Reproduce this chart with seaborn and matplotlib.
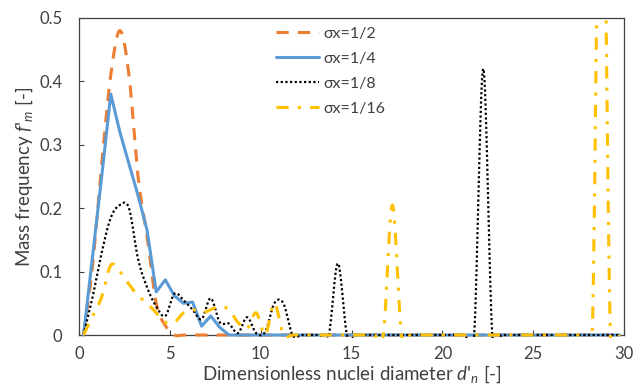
import numpy as np
import pandas as pd
import matplotlib
matplotlib.use("Agg")
import matplotlib.pyplot as plt
import seaborn as sns
from matplotlib.transforms import Bbox, TransformedBbox

# bin centres of the dimensionless nuclei diameter d'_n (bin width 0.5)
diameters = np.arange(0.25, 30.0, 0.5)

# mass frequency f'_m for each spread (60 bins)
f_half = [0, 0.11, 0.27, 0.41, 0.48, 0.41, 0.25, 0.155, 0.05, 0.015,
          0, 0, 0, 0, 0, 0, 0, 0, 0, 0,
          0, 0, 0, 0, 0, 0, 0, 0, 0, 0,
          0, 0, 0, 0, 0, 0, 0, 0, 0, 0,
          0, 0, 0, 0, 0, 0, 0, 0, 0, 0,
          0, 0, 0, 0, 0, 0, 0, 0, 0, 0]
f_quarter = [0, 0.125, 0.25, 0.38, 0.32, 0.27, 0.22, 0.165, 0.068, 0.087,
             0.062, 0.05, 0.052, 0.014, 0.03, 0.012, 0, 0, 0, 0,
             0, 0, 0, 0, 0, 0, 0, 0, 0, 0,
             0, 0, 0, 0, 0, 0, 0, 0, 0, 0,
             0, 0, 0, 0, 0, 0, 0, 0, 0, 0,
             0, 0, 0, 0, 0, 0, 0, 0, 0, 0]
f_eighth = [0, 0.06, 0.13, 0.185, 0.205, 0.2, 0.12, 0.075, 0.045, 0.03,
            0.065, 0.055, 0.04, 0.025, 0.058, 0.02, 0.018, 0.003, 0.028, 0.003,
            0.005, 0.05, 0.05, 0, 0, 0, 0, 0, 0.113, 0,
            0, 0, 0, 0, 0, 0, 0, 0, 0, 0,
            0, 0, 0, 0, 0.42, 0, 0, 0, 0, 0,
            0, 0, 0, 0, 0, 0, 0, 0, 0, 0]
f_sixteenth = [0, 0.03, 0.06, 0.11, 0.1, 0.08, 0.062, 0.05, 0.035, 0.02,
               0.02, 0.035, 0.04, 0.035, 0.04, 0.045, 0.04, 0.02, 0.01, 0.035,
               0, 0.05, 0, 0, 0, 0, 0, 0, 0, 0,
               0, 0, 0, 0, 0.205, 0, 0, 0, 0, 0,
               0, 0, 0, 0, 0, 0, 0, 0, 0, 0,
               0, 0, 0, 0, 0, 0, 0, 0.95, 0, 0]

labels = ["σx=1/2", "σx=1/4", "σx=1/8", "σx=1/16"]
colors = ["#ED7D31", "#5B9BD5", "#000000", "#FFC000"]


def smooth(x, y, n=16):
    # Excel "smoothed line": Catmull-Rom curve through the points
    p = np.column_stack([x, y]).astype(float)
    p = np.vstack([p[0], p, p[-1]])
    t = np.linspace(0, 1, n, endpoint=False)[:, None]
    h00 = 2 * t**3 - 3 * t**2 + 1
    h10 = t**3 - 2 * t**2 + t
    h01 = -2 * t**3 + 3 * t**2
    h11 = t**3 - t**2
    out = []
    for i in range(1, len(p) - 2):
        m0 = (p[i + 1] - p[i - 1]) / 2
        m1 = (p[i + 2] - p[i]) / 2
        out.append(h00 * p[i] + h10 * m0 + h01 * p[i + 1] + h11 * m1)
    out.append(p[-2][None, :])
    out = np.vstack(out)
    return out[:, 0], out[:, 1]


sns.set_theme(style="white")
plt.rcParams['font.family'] = ['Lato', 'DejaVu Sans']
plt.rcParams['mathtext.fontset'] = 'custom'
plt.rcParams['mathtext.rm'] = 'Lato'
plt.rcParams['mathtext.it'] = 'Lato:italic'

fig = plt.figure(figsize=(6.36, 3.91), dpi=100)
ax = fig.add_axes([0.1242, 0.1432, 0.857, 0.811])

series = [
    (f_half, True, (0, (4, 3)), 2.2),
    (f_quarter, False, '-', 2.2),
    (f_eighth, True, (0, (1, 1.1)), 1.6),
    (f_sixteenth, True, (0, (4, 3, 1, 3)), 2.2),
]
for (vals, smoothed, ls, lw), lab, col in zip(series, labels, colors):
    if smoothed:
        xs, ys = smooth(diameters, vals)
    else:
        xs, ys = diameters, np.asarray(vals)
    df = pd.DataFrame({'d': xs, 'f': ys})
    sns.lineplot(data=df, x='d', y='f', ax=ax, color=col, linewidth=lw,
                 linestyle=ls, label=lab, sort=False, estimator=None)

# let the zero baseline show in full, hide the curve undershoot
clip = TransformedBbox(Bbox([[0, -0.009], [1, 1]]), ax.transAxes)
for line in ax.lines:
    line.set_clip_box(clip)
    line.set_zorder(3)

ax.set_xlim(0, 30)
ax.set_ylim(0, 0.5)
ax.set_xticks(np.arange(0, 31, 5))
ax.set_yticks(np.arange(0, 0.51, 0.1))
ax.set_yticklabels(['0', '0.1', '0.2', '0.3', '0.4', '0.5'])
ax.tick_params(direction='in', length=3.5, width=0.8, color='#404040',
               labelsize=12, labelcolor='#404040', bottom=True, left=True)
ax.tick_params(axis='y', pad=12)
ax.tick_params(axis='x', pad=8)
for sp in ax.spines.values():
    sp.set_color('#404040')
    sp.set_linewidth(0.9)

ax.set_xlabel(r"Dimensionless nuclei diameter $d\text{'}_n$ [-]", fontsize=13.5,
              color='#404040', labelpad=1)
ax.set_ylabel(r"Mass frequency $f\text{'}_m$ [-]", fontsize=13.5, color='#404040',
              labelpad=3)

ax.legend(loc='upper left', bbox_to_anchor=(0.345, 1.0), frameon=False,
          fontsize=11.5, handlelength=2.7, handletextpad=0.25, labelspacing=0.68,
          borderaxespad=0.15, labelcolor='#404040')

fig.savefig('out.png', dpi=100)
